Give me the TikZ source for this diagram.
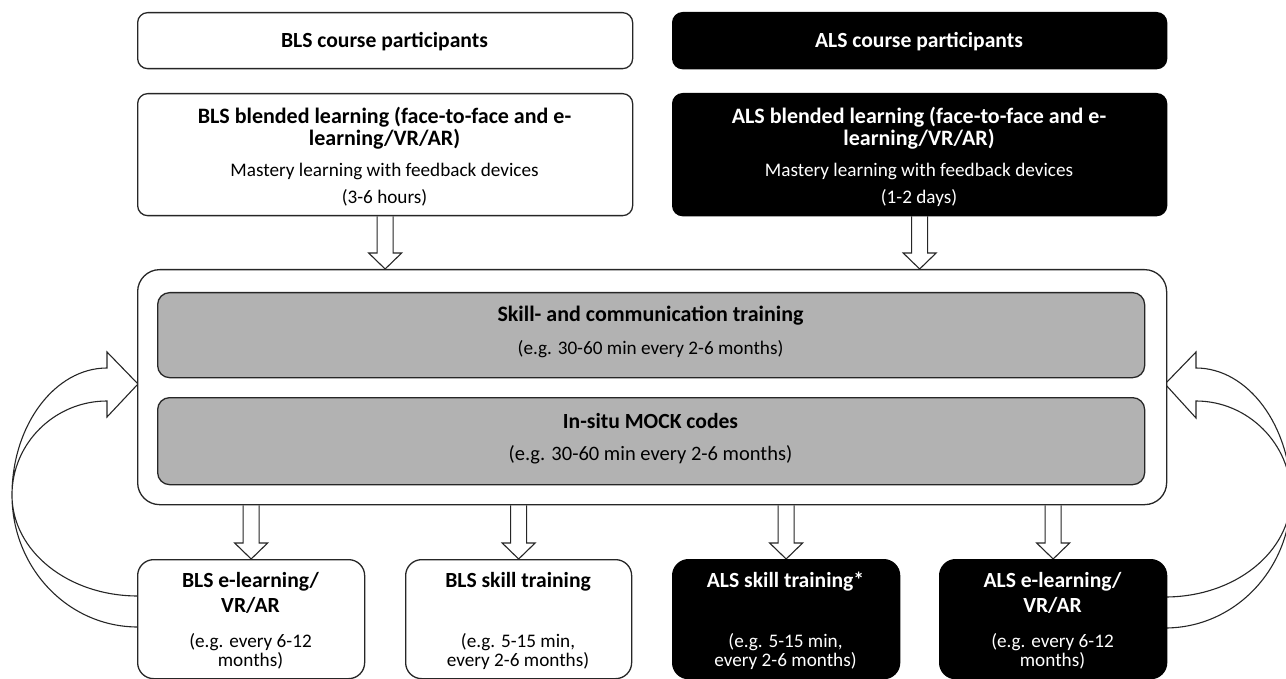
\documentclass[tikz,border=0pt]{standalone}
\usepackage{fontspec}
\setmainfont{Carlito}
\usetikzlibrary{calc,backgrounds}
\newcommand\blockarrow[2]{%
  \draw[barrow] let \p1=(#1), \p2=(#2) in
    (\x2-8pt,\y1) -- (\x2-8pt,\y2+16pt) -- (\x2-16.5pt,\y2+16pt) -- (\x2,\y2)
    -- (\x2+16.5pt,\y2+16pt) -- (\x2+8pt,\y2+16pt) -- (\x2+8pt,\y1);}
\begin{document}
\begin{tikzpicture}[x=1pt,y=-1pt,
  box/.style={draw=black!85, line width=1.3pt, rounded corners=10pt, inner sep=0, anchor=north west, fill=white},
  dbox/.style={box, fill=black, draw=black},
  gbox/.style={box, fill=black!30, rounded corners=12pt},
  cbox/.style={box, rounded corners=22pt},
  bbox/.style={box, rounded corners=16pt},
  barrow/.style={draw=black!85, fill=white, line width=1.1pt, line join=miter},
  carrow/.style={draw=black!85, fill=white, line width=1.1pt, line join=miter},
  ttl/.style={font=\fontsize{21.6}{25}\selectfont\bfseries, anchor=base, inner sep=0},
  ttlb/.style={font=\fontsize{22}{26}\selectfont\bfseries, anchor=base, inner sep=0},
  txt/.style={font=\fontsize{19.2}{23}\selectfont, anchor=base, inner sep=0},
  txtl/.style={font=\fontsize{20.5}{24}\selectfont, anchor=base, inner sep=0},
  wh/.style={text=white}
]
\useasboundingbox (0,0) rectangle (1286,679);

% top row
\node[box, minimum width=495pt, minimum height=56pt] (blsp) at (137,12) {};
\node[dbox, minimum width=494pt, minimum height=56pt] (alsp) at (672,12) {};
\node[ttl] (tblsp) at (384.5,48) {BLS course participants};
\node[ttl, wh] (talsp) at (919,48) {ALS course participants};

% blended
\node[box, minimum width=495pt, minimum height=122pt] (blsb) at (137,93) {};
\node[dbox, minimum width=494pt, minimum height=122pt] (alsb) at (672,93) {};
\node[ttlb] (tb1) at (384.5,124) {BLS blended learning (face-to-face and e-};
\node[ttlb] (tb2) at (384.5,146) {learning/VR/AR)};
\node[txt] (tb3) at (384.5,177) {Mastery learning with feedback devices};
\node[txt] (tb4) at (384.5,204) {(3-6 hours)};
\node[ttlb, wh] (ta1) at (919,124) {ALS blended learning (face-to-face and e-};
\node[ttlb, wh] (ta2) at (919,146) {learning/VR/AR)};
\node[txt, wh] (ta3) at (919,177) {Mastery learning with feedback devices};
\node[txt, wh] (ta4) at (919,204) {(1-2 days)};

% container
\node[cbox, minimum width=1029pt, minimum height=235pt] (cont) at (137,269) {};
\node[gbox, minimum width=987pt, minimum height=85pt] (g1) at (157,292) {};
\node[gbox, minimum width=987pt, minimum height=87pt] (g2) at (157,397) {};
\node[ttlb] (tg1) at (650.5,322) {Skill- and communication training};
\node[txt] (tg2) at (650.5,354) {(e.g. 30-60 min every 2-6 months)};
\node[ttl] (tg3) at (650.5,428) {In-situ MOCK codes};
\node[txtl] (tg4) at (650.5,460) {(e.g. 30-60 min every 2-6 months)};

% bottom row
\node[bbox, minimum width=227pt, minimum height=119pt] (b1) at (137,559) {};
\node[bbox, minimum width=226pt, minimum height=119pt] (b2) at (405,559) {};
\node[bbox, fill=black, draw=black, minimum width=227pt, minimum height=119pt] (b3) at (672,559) {};
\node[bbox, fill=black, draw=black, minimum width=227pt, minimum height=119pt] (b4) at (939,559) {};

\node[ttl] (t11) at (250.5,587) {BLS e-learning/};
\node[ttl] (t12) at (250.5,612) {VR/AR};
\node[txt] (t13) at (250.5,647) {(e.g. every 6-12};
\node[txt] (t14) at (250.5,666) {months)};

\node[ttl] (t21) at (518,587) {BLS skill training};
\node[txt] (t23) at (518,647) {(e.g. 5-15 min,};
\node[txt] (t24) at (518,666) {every 2-6 months)};

\node[ttl, wh] (t31) at (785.5,587) {ALS skill training*};
\node[txt, wh] (t33) at (785.5,647) {(e.g. 5-15 min,};
\node[txt, wh] (t34) at (785.5,666) {every 2-6 months)};

\node[ttl, wh] (t41) at (1052.5,587) {ALS e-learning/};
\node[ttl, wh] (t42) at (1052.5,612) {VR/AR};
\node[txt, wh] (t43) at (1052.5,647) {(e.g. every 6-12};
\node[txt, wh] (t44) at (1052.5,666) {months)};

\begin{scope}[on background layer]
  \blockarrow{blsb.south}{cont.north -| blsb.south}
  \blockarrow{alsb.south}{cont.north -| alsb.south}
  \blockarrow{cont.south -| b1.north}{b1.north}
  \blockarrow{cont.south -| b2.north}{b2.north}
  \blockarrow{cont.south -| b3.north}{b3.north}
  \blockarrow{cont.south -| b4.north}{b4.north}
  % curved return arrows
  \draw[carrow] (138,627) .. controls (68,627) and (12,568) .. (12,495)
     .. controls (12,425) and (55,368) .. (107,368) -- (107,352) -- (138,384)
     -- (107,417) -- (107,401) .. controls (55,401) and (12,443) .. (12,495)
     .. controls (12,551) and (68,596) .. (138,596);
  \draw[carrow] (1165,628) .. controls (1235,628) and (1291,569) .. (1291,496)
     .. controls (1291,426) and (1248,368) .. (1196,368) -- (1196,352) -- (1165,384)
     -- (1196,418) -- (1196,401) .. controls (1248,401) and (1291,444) .. (1291,496)
     .. controls (1291,552) and (1235,597) .. (1165,597);
\end{scope}
\end{tikzpicture}
\end{document}
